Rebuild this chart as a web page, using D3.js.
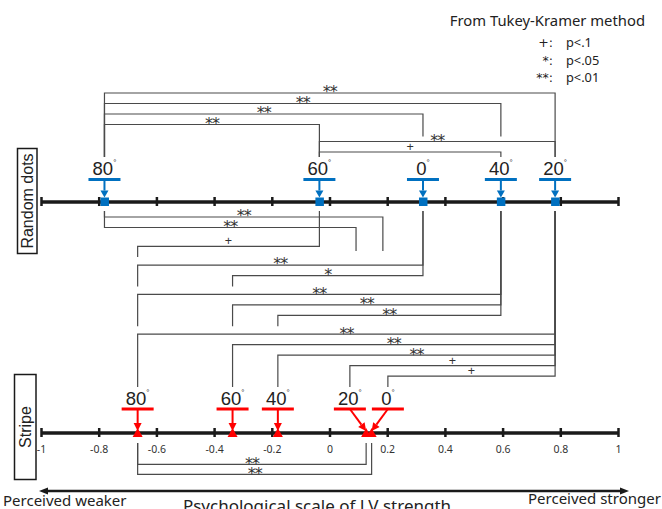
<!DOCTYPE html>
<html>
<head>
<meta charset="utf-8">
<script src="https://cdn.jsdelivr.net/npm/d3@7"></script>
<style>
  body { margin: 0; background: #fff; }
  svg { display: block; }
</style>
</head>
<body>
<svg id="chart" width="662" height="509"></svg>
<script>
// Scale values of the two stimulus types (psychological scale of LV strength)
const dotAngles = ["80°", "60°", "0°", "40°", "20°"];
const dotScale = [-0.78, -0.035, 0.324, 0.594, 0.782];
const stripeAngles = ["80°", "60°", "40°", "20°", "0°"];
const stripeScale = [-0.665, -0.336, -0.179, 0.127, 0.146];

const tickValues = [-1, -0.8, -0.6, -0.4, -0.2, 0, 0.2, 0.4, 0.6, 0.8, 1];
const tickLabels = ["-1", "-0.8", "-0.6", "-0.4", "-0.2", "0", "0.2", "0.4", "0.6", "0.8", "1"];

// Significant differences, Random dots vs Random dots
const dotPairs = [
  ["80°", "20°", "**"], ["80°", "40°", "**"], ["80°", "0°", "**"], ["80°", "60°", "**"],
  ["60°", "20°", "**"], ["60°", "40°", "+"]
];
// Random dots 80° brackets ending at a point of the scale
const dotOpenPairs = [["80°", 0.185, "**"], ["80°", 0.092, "**"]];
// Stripe (first) vs Random dots (second)
const crossPairs = [
  ["80°", "60°", "+"],
  ["80°", "0°", "**"], ["60°", "0°", "*"],
  ["80°", "40°", "**"], ["60°", "40°", "**"], ["40°", "40°", "**"],
  ["80°", "20°", "**"], ["60°", "20°", "**"], ["40°", "20°", "**"], ["20°", "20°", "+"], ["0°", "20°", "+"]
];
// Stripe vs Stripe
const stripePairs = [["80°", "20°", "**"], ["80°", "0°", "**"]];

const legendTitle = "From Tukey-Kramer method";
const legendSymbols = ["+:", "*:", "**:"];
const legendTexts = ["p<.1", "p<.05", "p<.01"];

const BLUE = "#0070C0", RED = "#FF0000", INK = "#1a1a1a", LINE = "#4a4a4a";
const svg = d3.select("#chart");
const x = d3.scaleLinear().domain([-1, 1]).range([41, 618]);

const dotAxisY = 201.5, stripeAxisY = 432.5;
const dotX = a => x(dotScale[dotAngles.indexOf(a)]);
const stripeX = a => x(stripeScale[stripeAngles.indexOf(a)]);

// Stripe labels that crowd each other are pushed apart
const stripeLabelX = stripeAngles.map(a => stripeX(a));
(function spread() {
  const minGap = 38;
  const order = d3.range(stripeLabelX.length).sort((i, j) => stripeLabelX[i] - stripeLabelX[j]);
  for (let k = 1; k < order.length; k++) {
    const i = order[k - 1], j = order[k];
    const d = stripeLabelX[j] - stripeLabelX[i];
    if (d < minGap) {
      const c = (stripeLabelX[i] + stripeLabelX[j]) / 2;
      stripeLabelX[i] = c - minGap / 2;
      stripeLabelX[j] = c + minGap / 2;
    }
  }
})();
const stripeLX = a => stripeLabelX[stripeAngles.indexOf(a)];

// ---------- axes ----------
function drawAxis(y, withLabels) {
  const axis = d3.axisBottom(x).tickValues(tickValues).tickSizeOuter(0)
    .tickFormat((d, i) => withLabels ? tickLabels[i] : "");
  const g = svg.append("g").attr("transform", `translate(0,${y})`).call(axis);
  g.select(".domain").attr("stroke", INK).attr("stroke-width", 3.5);
  g.selectAll(".tick line").attr("y1", -4.5).attr("y2", 4.5)
    .attr("stroke", INK).attr("stroke-width", 2.5);
  g.selectAll(".tick text").attr("y", 20).attr("dy", 0)
    .attr("font-family", "'Noto Sans', sans-serif").attr("font-size", 10.5).attr("fill", "#333");
  return g;
}
drawAxis(dotAxisY, false);
drawAxis(stripeAxisY, true);

// ---------- arrows ----------
function arrow(x0, y0, x1, y1, color, headLen, headHalf, width) {
  const dx = x1 - x0, dy = y1 - y0, L = Math.hypot(dx, dy);
  const ux = dx / L, uy = dy / L;
  const bx = x1 - ux * headLen, by = y1 - uy * headLen;
  svg.append("line").attr("x1", x0).attr("y1", y0).attr("x2", bx).attr("y2", by)
    .attr("stroke", color).attr("stroke-width", width);
  svg.append("polygon")
    .attr("points", [[x1, y1], [bx - uy * headHalf, by + ux * headHalf], [bx + uy * headHalf, by - ux * headHalf]].map(p => p.join(",")).join(" "))
    .attr("fill", color);
}

function degreeLabel(cx, baseline, text) {
  const t = svg.append("text").attr("x", cx).attr("y", baseline)
    .attr("text-anchor", "middle").attr("font-family", "'Liberation Sans', Arial, sans-serif")
    .attr("font-size", 18.5).attr("fill", "#222");
  t.append("tspan").text(text.slice(0, -1));
  t.append("tspan").text(text.slice(-1)).attr("font-size", 8).attr("dy", -10);
}

// ---------- Random dots markers ----------
dotAngles.forEach(a => {
  const cx = dotX(a);
  degreeLabel(cx, 175, a);
  svg.append("line").attr("x1", cx - 16).attr("x2", cx + 16).attr("y1", 179.5).attr("y2", 179.5)
    .attr("stroke", BLUE).attr("stroke-width", 3);
  arrow(cx, 179.5, cx, 197.5, BLUE, 7, 4, 2);
  svg.append("rect").attr("x", cx - 4).attr("y", dotAxisY - 4).attr("width", 8.5).attr("height", 8.5)
    .attr("fill", BLUE);
});

// ---------- Stripe markers ----------
stripeAngles.forEach(a => {
  const cx = stripeX(a), lx = stripeLX(a);
  degreeLabel(lx, 405, a);
  svg.append("line").attr("x1", lx - 16).attr("x2", lx + 16).attr("y1", 409).attr("y2", 409)
    .attr("stroke", RED).attr("stroke-width", 3);
  arrow(lx, 409, cx, 431, RED, 8, 4, 2);
});
stripeAngles.forEach(a => {
  const cx = stripeX(a);
  svg.append("polygon")
    .attr("points", [[cx - 5, stripeAxisY + 4.5], [cx + 5, stripeAxisY + 4.5], [cx, stripeAxisY - 4.5]].map(p => p.join(",")).join(" "))
    .attr("fill", RED);
});

// ---------- significance brackets ----------
// rows: grouped list -> y positions
function rowY(keys, y0, step, gap) {
  const ys = [];
  let y = y0;
  keys.forEach((k, i) => {
    if (i > 0) y += step + (k !== keys[i - 1] ? gap : 0);
    ys.push(y);
  });
  return ys;
}

// leg = {x, dir: "up"|"down", end}; a descending leg stops above the next lower bracket that spans it
function resolveLegs(brackets, gap, strict) {
  brackets.forEach(b => {
    b.legs.forEach(leg => {
      if (leg.dir !== "down") return;
      let stop = leg.end;
      brackets.forEach(o => {
        if (o === b || o.y <= b.y) return;
        const lo = Math.min(o.x1, o.x2), hi = Math.max(o.x1, o.x2);
        const inside = strict ? (leg.x > lo + 0.5 && leg.x < hi - 0.5) : (leg.x >= lo - 0.5 && leg.x <= hi + 0.5);
        if (inside) stop = Math.min(stop, o.y - (leg.gap || gap));
      });
      leg.end = stop;
    });
  });
}

function drawBrackets(brackets) {
  brackets.forEach(b => {
    const [l1, l2] = b.legs;
    svg.append("path")
      .attr("d", `M${l1.x},${l1.end}V${b.y}H${l2.x}V${l2.end}`)
      .attr("fill", "none").attr("stroke", LINE).attr("stroke-width", 1.2);
    const mid = (l1.x + l2.x) / 2;
    const isStar = b.sig.includes("*");
    svg.append("text").attr("x", mid).attr("y", isStar ? b.y + 4.3 : b.y - 1)
      .attr("text-anchor", "middle")
      .attr("font-family", isStar ? "'DejaVu Sans', sans-serif" : "'Liberation Sans', Arial, sans-serif")
      .attr("font-size", isStar ? 16 : 12.5).attr("fill", "#333")
      .attr("letter-spacing", isStar ? -1 : 0)
      .text(b.sig);
  });
}

// Random dots vs Random dots (above the upper axis)
const topY = rowY(dotPairs.map(p => p[0]), 93, 10.5, 6.5);
const topBrackets = dotPairs.map((p, i) => ({
  x1: dotX(p[0]), x2: dotX(p[1]), y: topY[i], sig: p[2],
  legs: [{ x: dotX(p[0]), dir: "down", end: 157 }, { x: dotX(p[1]), dir: "down", end: 157 }]
}));
resolveLegs(topBrackets, 5, true);
drawBrackets(topBrackets);

// Between the two axes
const midKeys = dotOpenPairs.map(() => "open").concat(crossPairs.map(p => p[1]));
const midY = rowY(midKeys, 217, 10.5, 8.3);
const midBrackets = [];
dotOpenPairs.forEach((p, i) => {
  const x1 = dotX(p[0]), x2 = x(p[1]);
  midBrackets.push({ x1, x2, y: midY[i], sig: p[2],
    legs: [{ x: x1, dir: "up", end: 211 }, { x: x2, dir: "down", end: 387, gap: 14 }] });
});
crossPairs.forEach((p, i) => {
  const x1 = stripeLX(p[0]), x2 = dotX(p[1]);
  midBrackets.push({ x1, x2, y: midY[i + dotOpenPairs.length], sig: p[2],
    legs: [{ x: x1, dir: "down", end: 387 }, { x: x2, dir: "up", end: 211 }] });
});
resolveLegs(midBrackets, 8, false);
drawBrackets(midBrackets);

// Stripe vs Stripe (below the lower axis)
const lowBrackets = stripePairs.map((p, i) => ({
  x1: stripeX(p[0]), x2: stripeX(p[1]), y: 464.3 + i * 10, sig: p[2],
  legs: [{ x: stripeX(p[0]), dir: "up", end: 443 }, { x: stripeX(p[1]), dir: "up", end: 443 }]
}));
drawBrackets(lowBrackets);

// ---------- row titles ----------
function rowTitle(bx, by, bw, bh, text) {
  svg.append("rect").attr("x", bx).attr("y", by).attr("width", bw).attr("height", bh)
    .attr("fill", "none").attr("stroke", INK).attr("stroke-width", 1.5);
  svg.append("text")
    .attr("transform", `translate(${bx + bw / 2 + 6},${by + bh / 2}) rotate(-90)`)
    .attr("text-anchor", "middle")
    .attr("font-family", "'Liberation Sans', Arial, sans-serif").attr("font-size", 16).attr("fill", "#222")
    .text(text);
}
rowTitle(17.5, 148.5, 19.5, 105, "Random dots");
rowTitle(14.5, 374.5, 21.5, 105, "Stripe");

// ---------- legend ----------
svg.append("text").attr("x", 645).attr("y", 26).attr("text-anchor", "end")
  .attr("font-family", "'Noto Sans', sans-serif").attr("font-size", 14.8).attr("fill", "#222")
  .text(legendTitle);
legendSymbols.forEach((s, i) => {
  const y = 47 + i * 17.5;
  svg.append("text").attr("x", 553).attr("y", y).attr("text-anchor", "end")
    .attr("font-family", "'DejaVu Sans', sans-serif").attr("font-size", 12.5).attr("fill", "#222")
    .text(s);
  svg.append("text").attr("x", 566).attr("y", y)
    .attr("font-family", "'Noto Sans', sans-serif").attr("font-size", 12.8).attr("fill", "#222")
    .text(legendTexts[i]);
});

// ---------- direction arrow and axis title ----------
const ay = 491;
svg.append("line").attr("x1", 46).attr("x2", 621).attr("y1", ay).attr("y2", ay)
  .attr("stroke", INK).attr("stroke-width", 2.5);
svg.append("polygon").attr("points", `39,${ay} 48,${ay - 3.5} 48,${ay + 3.5}`).attr("fill", INK);
svg.append("polygon").attr("points", `629,${ay} 620,${ay - 3.5} 620,${ay + 3.5}`).attr("fill", INK);

svg.append("text").attr("x", 3).attr("y", 506)
  .attr("font-family", "'Noto Sans', sans-serif").attr("font-size", 15).attr("fill", "#222")
  .text("Perceived weaker");
svg.append("text").attr("x", 528).attr("y", 504)
  .attr("font-family", "'Noto Sans', sans-serif").attr("font-size", 15).attr("fill", "#222")
  .text("Perceived stronger");
svg.append("text").attr("x", 317).attr("y", 512).attr("text-anchor", "middle")
  .attr("font-family", "'Noto Sans', sans-serif").attr("font-size", 17).attr("fill", "#222")
  .text("Psychological scale of LV strength");
</script>
</body>
</html>
